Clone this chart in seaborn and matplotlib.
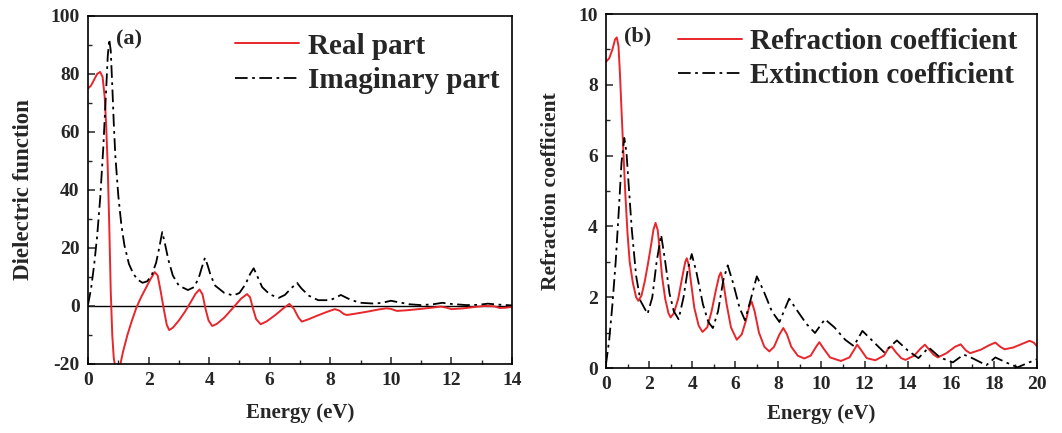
import numpy as np
import pandas as pd
import matplotlib
matplotlib.use('Agg')
import matplotlib.pyplot as plt
import seaborn as sns
from matplotlib.ticker import MultipleLocator

# ---------------- data ----------------
# (a) dielectric function
ea_re = [0, 0.1, 0.2, 0.3, 0.4, 0.48, 0.55, 0.6, 0.65, 0.7, 0.75, 0.8, 0.85, 0.9, 0.97,
         1.05, 1.15, 1.3, 1.45, 1.6, 1.75, 1.9, 2.05, 2.2, 2.3, 2.4, 2.5, 2.6, 2.68, 2.8,
         3.0, 3.2, 3.4, 3.55, 3.68, 3.78, 3.88, 3.98, 4.1, 4.25, 4.5, 4.8, 5.05, 5.25,
         5.35, 5.45, 5.55, 5.7, 5.9, 6.2, 6.45, 6.65, 6.8, 6.95, 7.06, 7.3, 7.6, 7.9,
         8.15, 8.3, 8.45, 8.55, 8.8, 9.2, 9.6, 9.86, 10.0, 10.2, 10.5, 11.0, 11.5, 11.65,
         11.85, 12.0, 12.4, 12.8, 13.1, 13.4, 13.6, 13.8, 14.0]
real_part = [75, 76, 78, 80, 80.7, 79, 72, 62, 48, 28, 5, -10, -18, -21, -22.5,
             -21, -16, -10, -5, -0.5, 3, 6, 9, 11.7, 10.5, 5, -1, -6.5, -8.3, -7.5,
             -5, -2, 1.5, 4.2, 5.7, 4, -1, -5, -6.9, -6.2, -4, -0.5, 2.5, 4.1,
             3, -1, -4.5, -6.3, -5.3, -3, -0.8, 0.7, -1, -4, -5.4, -4.5, -3.2, -2,
             -1.1, -1.6, -2.8, -3.1, -2.7, -2, -1.2, -0.8, -1.0, -1.7, -1.5, -1.0, -0.4, -0.2,
             -0.6, -1.1, -0.8, -0.3, 0, -0.1, -0.7, -0.6, -0.3]

ea_im = [0, 0.1, 0.2, 0.3, 0.4, 0.5, 0.6, 0.65, 0.7, 0.75, 0.8, 0.85, 0.9, 1.0, 1.1,
         1.2, 1.35, 1.5, 1.65, 1.8, 1.95, 2.1, 2.25, 2.35, 2.45, 2.55, 2.65, 2.8, 3.0,
         3.3, 3.5, 3.65, 3.75, 3.86, 3.95, 4.05, 4.2, 4.5, 4.8, 5.0, 5.2, 5.35, 5.47,
         5.6, 5.75, 6.0, 6.3, 6.5, 6.7, 6.9, 7.05, 7.3, 7.6, 8.0, 8.2, 8.35, 8.5, 8.7,
         9.0, 9.5, 9.8, 10.0, 10.3, 10.6, 11.0, 11.4, 11.7, 12.0, 12.5, 12.9, 13.2, 13.5, 14.0]
imag_part = [0.5, 6, 14, 24, 37, 54, 75, 86, 92, 88, 76, 63, 52, 38, 28,
             21, 14.5, 11, 9, 8, 8.5, 10.5, 15, 20, 25.5, 21, 16, 10.5, 7,
             5.5, 6.5, 9.5, 13, 16.6, 14, 10.5, 7, 4.5, 3.6, 4.5, 7.5, 11, 13,
             10, 6.5, 4, 2.8, 3.8, 6, 8, 6, 3.5, 2, 2, 3, 3.8, 3, 2,
             1.1, 0.8, 1.3, 1.8, 1.2, 0.6, 0.3, 0.6, 1.1, 0.7, 0.3, 0.4, 0.8, 0.5, 0.2]

# (b) refraction / extinction coefficient
eb_n = [0, 0.15, 0.3, 0.42, 0.5, 0.58, 0.65, 0.72, 0.8, 0.9, 1.0, 1.1, 1.25, 1.4, 1.5,
        1.65, 1.8, 1.95, 2.1, 2.2, 2.3, 2.4, 2.5, 2.6, 2.75, 2.9, 3.0, 3.15, 3.35, 3.55,
        3.68, 3.75, 3.85, 3.95, 4.1, 4.3, 4.48, 4.7, 4.9, 5.1, 5.25, 5.33, 5.45, 5.6,
        5.8, 6.07, 6.3, 6.5, 6.65, 6.76, 6.9, 7.1, 7.35, 7.58, 7.8, 8.05, 8.23, 8.4,
        8.6, 8.9, 9.2, 9.5, 9.75, 9.9, 10.1, 10.4, 10.9, 11.3, 11.5, 11.66, 11.85, 12.1,
        12.5, 12.9, 13.1, 13.25, 13.45, 13.7, 13.9, 14.3, 14.6, 14.8, 15.0, 15.2, 15.4,
        15.8, 16.2, 16.46, 16.7, 16.9, 17.4, 17.8, 18.07, 18.3, 18.5, 18.9, 19.3, 19.66,
        19.85, 20.0]
refraction = [8.65, 8.75, 9.0, 9.28, 9.34, 9.1, 8.3, 7.3, 6.2, 4.9, 3.8, 3.0, 2.4, 2.0, 1.9,
              2.05, 2.45, 2.95, 3.5, 3.9, 4.1, 3.9, 3.3, 2.6, 1.95, 1.55, 1.43, 1.55, 1.95, 2.6,
              3.0, 3.1, 2.9, 2.4, 1.7, 1.2, 1.02, 1.15, 1.6, 2.2, 2.6, 2.7, 2.4, 1.8,
              1.15, 0.8, 0.95, 1.35, 1.75, 1.88, 1.6, 1.0, 0.6, 0.47, 0.6, 0.95, 1.13, 0.95,
              0.6, 0.35, 0.27, 0.35, 0.6, 0.73, 0.55, 0.3, 0.2, 0.3, 0.5, 0.66, 0.5, 0.28,
              0.22, 0.35, 0.55, 0.61, 0.45, 0.28, 0.23, 0.35, 0.55, 0.66, 0.52, 0.38, 0.3,
              0.42, 0.6, 0.67, 0.5, 0.42, 0.52, 0.65, 0.72, 0.6, 0.53, 0.58, 0.68, 0.77,
              0.72, 0.62]

eb_k = [0, 0.15, 0.3, 0.45, 0.6, 0.72, 0.85, 0.95, 1.05, 1.2, 1.4, 1.6, 1.93, 2.15, 2.35,
        2.56, 2.75, 2.95, 3.15, 3.37, 3.6, 3.8, 3.98, 4.2, 4.5, 4.75, 4.96, 5.2, 5.45,
        5.65, 5.9, 6.2, 6.45, 6.7, 7.0, 7.3, 7.7, 8.05, 8.5, 8.9, 9.3, 9.7, 10.16, 10.6,
        11.1, 11.5, 11.9, 12.4, 12.9, 13.5, 14.0, 14.5, 14.98, 15.5, 16.1, 16.6, 17.0,
        17.65, 18.07, 18.6, 19.1, 19.6, 20.0]
extinction = [0.1, 0.8, 1.8, 3.0, 4.5, 5.8, 6.5, 6.1, 5.2, 3.9, 2.6, 1.9, 1.53, 2.0, 3.0,
              3.76, 3.0, 2.1, 1.6, 1.38, 2.0, 2.8, 3.22, 2.7, 1.8, 1.3, 1.13, 1.6, 2.5,
              2.9, 2.4, 1.7, 1.35, 1.9, 2.59, 2.2, 1.6, 1.3, 1.96, 1.6, 1.25, 0.99, 1.38, 1.15,
              0.8, 0.62, 1.05, 0.75, 0.45, 0.78, 0.5, 0.28, 0.58, 0.3, 0.16, 0.38, 0.28,
              0.08, 0.3, 0.15, 0.02, 0.15, 0.25]

# ---------------- style ----------------
sns.set_theme(style="ticks")
plt.rcParams['font.family'] = ['Liberation Serif', 'DejaVu Serif']
plt.rcParams['font.weight'] = 'bold'
plt.rcParams['axes.labelweight'] = 'bold'
plt.rcParams['axes.linewidth'] = 1.2
plt.rcParams['axes.unicode_minus'] = False

RED = '#e8262b'
DASHDOT = (0, (7, 2.5, 1.5, 2.5))

fig = plt.figure(figsize=(10.62, 4.33), dpi=100)
ax1 = fig.add_axes([0.0829, 0.1594, 0.3992, 0.8037])
ax2 = fig.add_axes([0.5706, 0.150, 0.4058, 0.8176])


def style_axis(ax):
    ax.tick_params(axis='both', which='major', direction='in', length=5, width=1.1,
                   labelsize=14, top=False, right=False, pad=6)
    ax.tick_params(axis='both', which='minor', direction='in', length=3, width=1.0,
                   top=False, right=False)
    for s in ax.spines.values():
        s.set_color('black')
        s.set_linewidth(1.2)
    for lab in ax.get_xticklabels() + ax.get_yticklabels():
        lab.set_fontweight('bold')


# ---------------- (a) ----------------
df_re = pd.DataFrame({'E': ea_re, 'v': real_part})
df_im = pd.DataFrame({'E': ea_im, 'v': imag_part})
sns.lineplot(data=df_re, x='E', y='v', ax=ax1, color=RED, lw=1.4, label='Real part',
             estimator=None, sort=False)
sns.lineplot(data=df_im, x='E', y='v', ax=ax1, color='black', lw=1.3, linestyle=DASHDOT,
             label='Imaginary part', estimator=None, sort=False)
ax1.axhline(0, color='black', lw=1.0, zorder=0)
ax1.set_xlim(0, 14)
ax1.set_ylim(-20, 100)
ax1.xaxis.set_major_locator(MultipleLocator(2))
ax1.xaxis.set_minor_locator(MultipleLocator(1))
ax1.yaxis.set_major_locator(MultipleLocator(20))
ax1.yaxis.set_minor_locator(MultipleLocator(10))
ax1.set_xlabel('Energy (eV)', fontsize=15, fontweight='bold', labelpad=10)
ax1.set_ylabel('Dielectric function', fontsize=16.5, fontweight='bold', labelpad=12)
ax1.text(0.066, 0.962, '(a)', transform=ax1.transAxes, ha='left', va='top',
         fontsize=16, fontweight='bold')
ax1.legend(loc='upper left', bbox_to_anchor=(0.347, 0.952), frameon=False,
           prop={'size': 21, 'weight': 'bold'}, handlelength=2.2, handletextpad=0.3,
           labelspacing=0.25, borderaxespad=0, borderpad=0)
style_axis(ax1)

# ---------------- (b) ----------------
df_n = pd.DataFrame({'E': eb_n, 'v': refraction})
df_k = pd.DataFrame({'E': eb_k, 'v': extinction})
sns.lineplot(data=df_n, x='E', y='v', ax=ax2, color=RED, lw=1.4,
             label='Refraction coefficient', estimator=None, sort=False)
sns.lineplot(data=df_k, x='E', y='v', ax=ax2, color='black', lw=1.3, linestyle=DASHDOT,
             label='Extinction coefficient', estimator=None, sort=False)
ax2.set_xlim(0, 20)
ax2.set_ylim(0, 10)
ax2.xaxis.set_major_locator(MultipleLocator(2))
ax2.xaxis.set_minor_locator(MultipleLocator(1))
ax2.yaxis.set_major_locator(MultipleLocator(2))
ax2.yaxis.set_minor_locator(MultipleLocator(1))
ax2.set_xlabel('Energy (eV)', fontsize=15, fontweight='bold', labelpad=8)
ax2.set_ylabel('Refraction coefficient', fontsize=15.5, fontweight='bold', labelpad=12)
ax2.text(0.042, 0.966, '(b)', transform=ax2.transAxes, ha='left', va='top',
         fontsize=16, fontweight='bold')
ax2.legend(loc='upper left', bbox_to_anchor=(0.166, 0.96), frameon=False,
           prop={'size': 21, 'weight': 'bold'}, handlelength=2.2, handletextpad=0.3,
           labelspacing=0.25, borderaxespad=0, borderpad=0)
style_axis(ax2)

fig.savefig('out.png', dpi=100)
